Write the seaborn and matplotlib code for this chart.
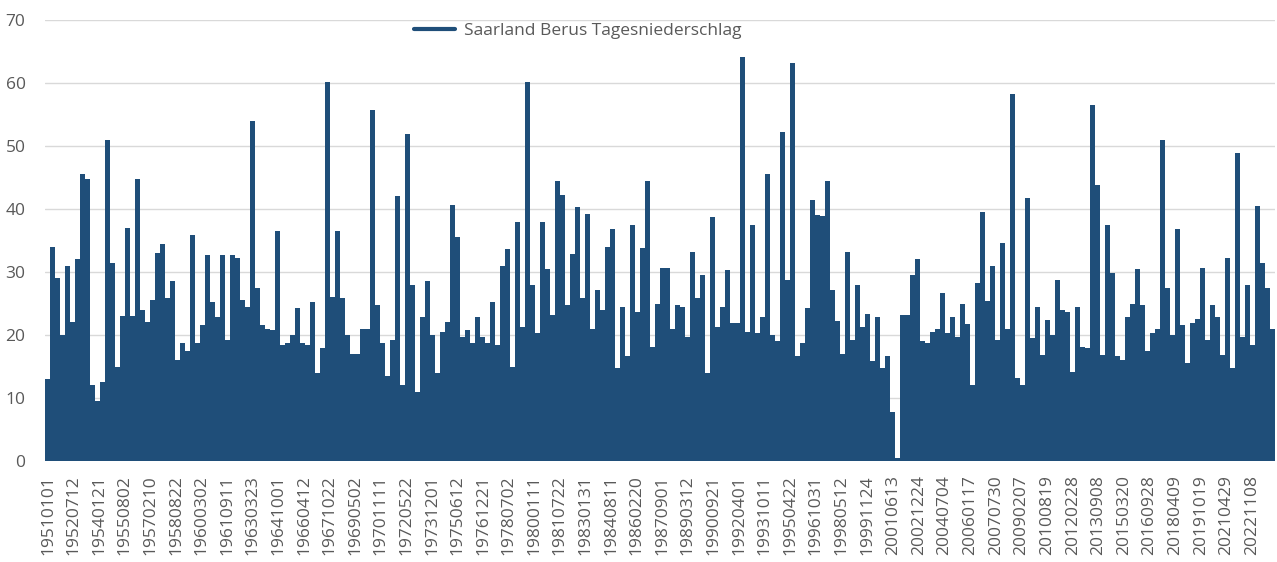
import numpy as np
import pandas as pd
import matplotlib.pyplot as plt
import seaborn as sns
from matplotlib.lines import Line2D

# Tagesniederschlag Berus (mm), Maximum je Abschnitt von ca. 109 Tagen
niederschlag_1951_1955 = [13, 34, 29, 20, 31, 22, 32, 45.5, 44.7, 12, 9.5, 12.6, 51, 31.4, 15, 23,
                          37, 23, 44.8, 24, 22, 25.5, 33, 34.5, 25.8, 28.6, 16, 18.7, 17.4, 35.8, 18.7]
niederschlag_1960_1968 = [21.6, 32.7, 25.3, 22.9, 32.7, 19.2, 32.7, 32.2, 25.5, 24.5, 53.9, 27.4, 21.6,
                          21, 20.8, 36.5, 18.4, 18.7, 20, 24.3, 18.7, 18.4, 25.3, 14, 18, 60.2, 26,
                          36.5, 25.8, 20, 17]
niederschlag_1968_1977 = [17, 21, 21, 55.7, 24.8, 18.7, 13.5, 19.2, 42, 12, 51.9, 28, 11, 22.9, 28.5,
                          20, 14, 20.5, 22, 40.6, 35.6, 19.7, 20.8, 18.7, 22.9, 19.7, 18.7, 25.3,
                          18.4, 31, 33.7]
niederschlag_1977_1986 = [15, 37.9, 21.3, 60.2, 27.9, 20.3, 37.9, 30.4, 23.2, 44.5, 42.2, 24.8, 32.9,
                          40.3, 25.8, 39.2, 21, 27.1, 24, 34, 36.9, 14.7, 24.4, 16.6, 37.4, 23.7,
                          33.8, 44.5, 18.1, 25, 30.6]
niederschlag_1986_1995 = [30.6, 21, 24.8, 24.5, 19.7, 33.2, 25.8, 29.6, 14, 38.8, 21.3, 24.4, 30.3,
                          21.9, 21.9, 64.2, 20.5, 37.4, 20.3, 22.9, 45.6, 20, 19, 52.2, 28.7, 63.1,
                          16.6, 18.7, 24.3, 41.4, 39]
niederschlag_1995_2005 = [38.9, 44.5, 27.1, 22.2, 17, 33.2, 19.2, 28, 21.3, 23.3, 15.8, 22.8, 14.7,
                          16.6, 7.8, 0.5, 23.2, 23.2, 29.6, 32, 19, 18.7, 20.5, 21, 26.7, 20.3,
                          22.9, 19.7, 25, 21.7, 12]
niederschlag_2005_2014 = [28.2, 39.5, 25.4, 31, 19.2, 34.6, 21, 58.2, 13.1, 12, 41.7, 19.5, 24.5,
                          16.8, 22.4, 20, 28.7, 23.9, 23.7, 14.2, 24.5, 18.1, 18, 56.5, 43.8, 16.8,
                          37.5, 29.8, 16.6, 16, 22.9]
niederschlag_2014_2024 = [25, 30.5, 24.7, 17.4, 20.3, 21, 51, 27.4, 20, 36.9, 21.6, 15.5, 21.9, 22.5,
                          30.7, 19.2, 24.7, 22.9, 16.8, 32.3, 14.7, 48.9, 19.7, 27.9, 18.4, 40.4,
                          31.5, 27.4, 21]

datum_labels = ['19510101', '19520712', '19540121', '19550802', '19570210', '19580822', '19600302',
                '19610911', '19630323', '19641001', '19660412', '19671022', '19690502', '19701111',
                '19720522', '19731201', '19750612', '19761221', '19780702', '19800111', '19810722',
                '19830131', '19840811', '19860220', '19870901', '19890312', '19900921', '19920401',
                '19931011', '19950422', '19961031', '19980512', '19991124', '20010613', '20021224',
                '20040704', '20060117', '20070730', '20090207', '20100819', '20120228', '20130908',
                '20150320', '20160928', '20180409', '20191019', '20210429', '20221108']

serie = 'Saarland Berus Tagesniederschlag'

werte = np.concatenate([niederschlag_1951_1955, niederschlag_1960_1968, niederschlag_1968_1977,
                        niederschlag_1977_1986, niederschlag_1986_1995, niederschlag_1995_2005,
                        niederschlag_2005_2014, niederschlag_2014_2024])

blau = '#1f4e79'
grau = '#595959'
tage_pro_balken = 109
versatz = -65  # Tage vor dem 1.1.1951 am linken Rand

start = pd.Timestamp('1951-01-01')
mitte = versatz + tage_pro_balken * (np.arange(len(werte)) + 0.5)
df = pd.DataFrame({'tag': mitte, 'mm': werte})

sns.set_style('white')
plt.rcParams['font.family'] = ['Open Sans', 'DejaVu Sans']

fig = plt.figure(figsize=(12.77, 5.62), dpi=100)
ax = fig.add_axes([45 / 1277, 1 - 461 / 562, 1230 / 1277, 441 / 562])

sns.barplot(data=df, x='tag', y='mm', native_scale=True, width=1.0, color=blau,
            saturation=1, linewidth=0, errorbar=None, antialiased=False, ax=ax)

ax.set_xlim(versatz, versatz + tage_pro_balken * len(werte))
ax.set_ylim(0, 70)
ax.set_yticks(range(0, 71, 10))
tick_tage = (pd.to_datetime(datum_labels, format='%Y%m%d') - start).days
ax.set_xticks(tick_tage)
ax.set_xticklabels(datum_labels, rotation=90)
ax.set_xlabel('')
ax.set_ylabel('')
ax.yaxis.grid(True, color='#d9d9d9', linewidth=1)
ax.set_axisbelow(True)
ax.tick_params(axis='both', length=0, colors=grau, labelsize=12.5)
ax.tick_params(axis='y', pad=14)
ax.tick_params(axis='x', pad=10)
sns.despine(ax=ax, left=True, bottom=True)

ax.legend(handles=[Line2D([], [], color=blau, linewidth=3)], labels=[serie],
          loc='center', bbox_to_anchor=(0.433, 0.975), frameon=False,
          handlelength=2.4, handletextpad=0.5, fontsize=12.5, labelcolor=grau)

fig.savefig('out.png', dpi=100)
